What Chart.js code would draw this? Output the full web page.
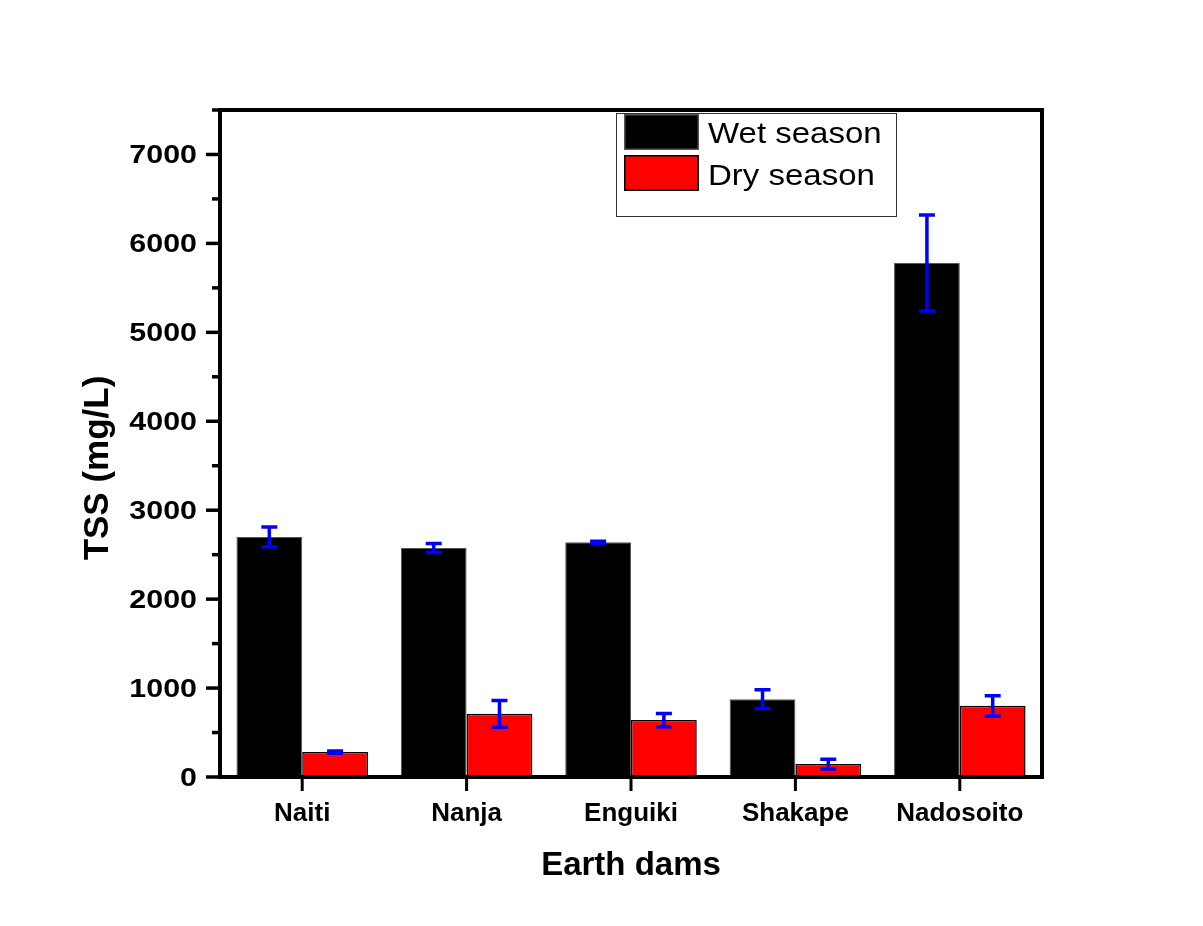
<!DOCTYPE html>
<html>
<head>
<meta charset="utf-8">
<script src="https://cdn.jsdelivr.net/npm/chart.js@4.4.1/dist/chart.umd.min.js"></script>
<style>
  html, body { margin: 0; padding: 0; background: #ffffff; }
  #wrap { width: 1203px; height: 926px; position: relative; }
</style>
</head>
<body>
<div id="wrap"><canvas id="c"></canvas></div>
<script>
// TSS by earth dam, mean and standard deviation per season (mg/L)
const dams = ['Naiti', 'Nanja', 'Enguiki', 'Shakape', 'Nadosoito'];
const wetMean = [2700, 2575, 2640, 875, 5780];
const wetErr  = [110, 50, 12, 105, 540];
const dryMean = [280, 710, 640, 145, 800];
const dryErr  = [12, 150, 75, 55, 115];
const seriesNames = ['Wet season', 'Dry season'];
const yAxisTitle = 'TSS (mg/L)';
const xAxisTitle = 'Earth dams';
const yMax = 7500;
const yMajorStep = 1000;
const yMinorStep = 500;

const FONT = '"Liberation Sans", Arial, Helvetica, sans-serif';

// Error bars drawn from each bar's own pixel position and the y scale
const errorBars = {
  id: 'errorBars',
  afterDatasetsDraw(chart) {
    const ctx = chart.ctx;
    const y = chart.scales.y;
    const errs = [wetErr, dryErr];
    ctx.save();
    ctx.strokeStyle = '#0000ff';
    ctx.lineWidth = 3.5;
    ctx.lineCap = 'butt';
    chart.data.datasets.forEach((ds, di) => {
      const meta = chart.getDatasetMeta(di);
      meta.data.forEach((bar, i) => {
        const v = ds.data[i], e = errs[di][i];
        const yt = y.getPixelForValue(v + e);
        const yb = y.getPixelForValue(v - e);
        const x = bar.x;
        ctx.beginPath();
        ctx.moveTo(x, yt); ctx.lineTo(x, yb);
        ctx.moveTo(x - 8, yt); ctx.lineTo(x + 8, yt);
        ctx.moveTo(x - 8, yb); ctx.lineTo(x + 8, yb);
        ctx.stroke();
      });
    });
    ctx.restore();
  }
};

// Box frame, tick marks, y tick labels, axis title and the legend
const frame = {
  id: 'frame',
  afterDraw(chart) {
    const ctx = chart.ctx;
    const a = chart.chartArea;
    const y = chart.scales.y;
    const x = chart.scales.x;
    ctx.save();
    ctx.strokeStyle = '#000';
    ctx.lineWidth = 4;
    ctx.strokeRect(a.left, a.top, a.right - a.left, a.bottom - a.top);

    // y ticks
    ctx.lineWidth = 3.5;
    y.ticks.forEach(t => {
      const py = y.getPixelForValue(t.value);
      const major = t.value % yMajorStep === 0;
      if (t.value > yMax) return;
      ctx.beginPath();
      ctx.moveTo(a.left, py);
      ctx.lineTo(a.left - (major ? 14 : 8), py);
      ctx.stroke();
    });
    // x ticks at category centres
    ctx.lineWidth = 3;
    dams.forEach((d, i) => {
      const px = x.getPixelForValue(i);
      ctx.beginPath();
      ctx.moveTo(px, a.bottom);
      ctx.lineTo(px, a.bottom + 14);
      ctx.stroke();
    });

    // y tick labels (wide bold digits)
    ctx.fillStyle = '#000';
    ctx.font = 'bold 26px ' + FONT;
    ctx.textAlign = 'right';
    ctx.textBaseline = 'alphabetic';
    y.ticks.forEach(t => {
      if (t.value % yMajorStep !== 0) return;
      const py = y.getPixelForValue(t.value);
      ctx.save();
      ctx.translate(197, py + 9);
      ctx.scale(1.17, 1);
      ctx.fillText(String(t.value), 0, 0);
      ctx.restore();
    });

    // y axis title
    ctx.save();
    ctx.translate(108, 468);
    ctx.rotate(-Math.PI / 2);
    ctx.font = 'bold 35px ' + FONT;
    ctx.textAlign = 'center';
    ctx.textBaseline = 'alphabetic';
    ctx.fillText(yAxisTitle, 0, 0);
    ctx.restore();

    // legend
    const ds = chart.data.datasets;
    ctx.fillStyle = '#fff';
    ctx.fillRect(616, 113, 281, 104);
    ctx.strokeStyle = '#333';
    ctx.lineWidth = 1;
    ctx.strokeRect(616.5, 113.5, 280, 103);
    const rows = [{ top: 114, base: 143 }, { top: 155, base: 185 }];
    rows.forEach((r, i) => {
      ctx.fillStyle = ds[i].backgroundColor;
      ctx.fillRect(624, r.top, 75, 36);
      ctx.strokeStyle = ds[i].borderColor;
      ctx.lineWidth = 1.5;
      ctx.strokeRect(624.75, r.top + 0.75, 73.5, 34.5);
      ctx.save();
      ctx.translate(708, r.base);
      ctx.scale(1.1, 1);
      ctx.fillStyle = '#000';
      ctx.font = '30px ' + FONT;
      ctx.textAlign = 'left';
      ctx.fillText(ds[i].label, 0, 0);
      ctx.restore();
    });
    ctx.restore();
  }
};

new Chart(document.getElementById('c'), {
  type: 'bar',
  data: {
    labels: dams,
    datasets: [
      { label: seriesNames[0], data: wetMean, backgroundColor: '#000000', borderColor: '#555555', borderWidth: 1 },
      { label: seriesNames[1], data: dryMean, backgroundColor: '#ff0000', borderColor: '#000000', borderWidth: 1.5 }
    ]
  },
  options: {
    responsive: true,
    maintainAspectRatio: false,
    animation: false,
    devicePixelRatio: 1,
    datasets: { bar: { barPercentage: 1.0, categoryPercentage: 0.8 } },
    layout: { padding: { left: 0, right: 161, top: 110, bottom: 0 } },
    plugins: { legend: { display: false }, tooltip: { enabled: false } },
    scales: {
      x: {
        afterFit(s) { s.height = 926 - 777; },
        grid: { display: false, drawTicks: false },
        border: { display: false },
        ticks: { color: '#000', font: { family: FONT, size: 26, weight: 'bold' }, padding: 21 },
        title: { display: true, text: xAxisTitle, color: '#000', font: { family: FONT, size: 33, weight: 'bold' }, padding: { top: 0, bottom: 40 } }
      },
      y: {
        min: 0,
        max: yMax,
        afterFit(s) { s.width = 220; },
        grid: { display: false, drawTicks: false },
        border: { display: false },
        ticks: { display: false, stepSize: yMinorStep }
      }
    }
  },
  plugins: [errorBars, frame]
});
</script>
</body>
</html>
